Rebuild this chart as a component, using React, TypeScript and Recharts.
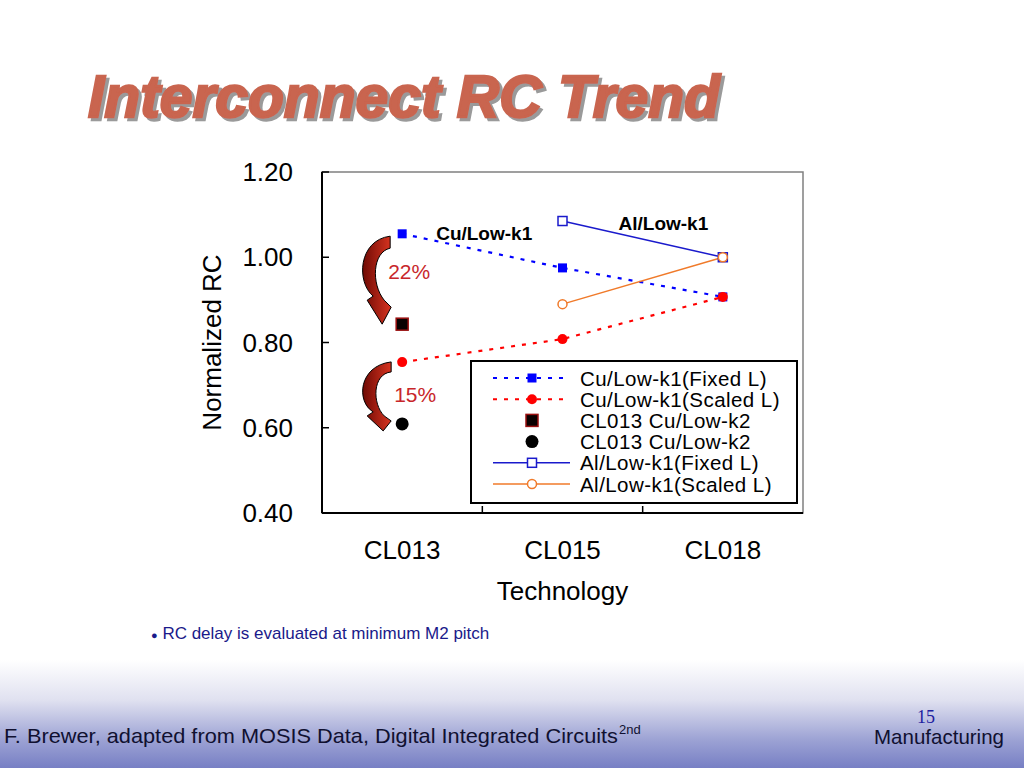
import React from 'react';
import {
  ComposedChart,
  Line,
  XAxis,
  YAxis,
  ReferenceArea,
  ReferenceDot,
  Label,
} from 'recharts';

// values
const technologies = ['CL013', 'CL015', 'CL018'];
const cuFixed = [1.055, 0.975, 0.907];
const cuScaled = [0.754, 0.808, 0.907];
const k2Square = [0.843, null, null];
const k2Circle = [0.609, null, null];
const alFixed = [null, 1.085, 1.0];
const alScaled = [null, 0.89, 1.0];
const yTicks = [0.4, 0.6, 0.8, 1.0, 1.2];

const legendNames = [
  'Cu/Low-k1(Fixed L)',
  'Cu/Low-k1(Scaled L)',
  'CL013 Cu/Low-k2',
  'CL013 Cu/Low-k2',
  'Al/Low-k1(Fixed L)',
  'Al/Low-k1(Scaled L)',
];

const chartData = technologies.map((tech, i) => ({
  tech,
  cuFixed: cuFixed[i],
  cuScaled: cuScaled[i],
  k2Square: k2Square[i],
  k2Circle: k2Circle[i],
  alFixed: alFixed[i],
  alScaled: alScaled[i],
}));

const FONT = '"Liberation Sans", Arial, Helvetica, sans-serif';
const BLUE = '#0000ff';
const RED = '#ff0000';
const AL_BLUE = '#1a1acc';
const ORANGE = '#f07a2a';
const DOT_DASH = '4 7';

type Mark = (cx: number, cy: number, key?: number | string) => React.ReactElement;

const blueSquare: Mark = (cx, cy, key) => (
  <rect key={key} x={cx - 4.5} y={cy - 4.5} width={9} height={9} fill={BLUE} />
);
const redCircle: Mark = (cx, cy, key) => <circle key={key} cx={cx} cy={cy} r={5} fill={RED} />;
const k2SquareMark: Mark = (cx, cy, key) => (
  <rect key={key} x={cx - 6} y={cy - 6} width={12} height={12} fill="#0a0000" stroke="#9a1010" strokeWidth={1.5} />
);
const k2CircleMark: Mark = (cx, cy, key) => <circle key={key} cx={cx} cy={cy} r={6.5} fill="#000" />;
const openSquare: Mark = (cx, cy, key) => (
  <rect key={key} x={cx - 4.5} y={cy - 4.5} width={9} height={9} fill="#fff" stroke={AL_BLUE} strokeWidth={1.5} />
);
const openCircle: Mark = (cx, cy, key) => (
  <circle key={key} cx={cx} cy={cy} r={4.5} fill="#fff" stroke={ORANGE} strokeWidth={1.5} />
);

const dotOf = (mark: Mark) => (props: any) => {
  const { cx, cy, index } = props;
  if (cx == null || cy == null || Number.isNaN(cy)) return <g key={index} />;
  return mark(cx, cy, index);
};

const legendRows: { mark: Mark; stroke?: string; dash?: string }[] = [
  { mark: blueSquare, stroke: BLUE, dash: DOT_DASH },
  { mark: redCircle, stroke: RED, dash: DOT_DASH },
  { mark: k2SquareMark },
  { mark: k2CircleMark },
  { mark: openSquare, stroke: AL_BLUE },
  { mark: openCircle, stroke: ORANGE },
];

function TechTick(props: any) {
  const { x, y, payload, index, visibleTicksCount } = props;
  const half = payload?.offset ?? 0;
  return (
    <g>
      <text x={x} y={y + 46} textAnchor="middle" fontSize={26} fill="#000" fontFamily={FONT}>
        {payload.value}
      </text>
      {index < visibleTicksCount - 1 && (
        <line x1={x + half} x2={x + half} y1={y} y2={y - 7} stroke="#000" strokeWidth={1.5} />
      )}
    </g>
  );
}

// curved "drop" arrows, drawn relative to the point they point at
const ARROW_TOP =
  'M -12 -88 C -44 -84 -46 -42 -29 -28 L -35 -24 L -20 0 L -11 -17 L -18 -24 C -31 -40 -30 -72 -12 -76 Z';
const ARROW_BOTTOM =
  'M -11 -62 C -44 -58 -46 -22 -29 -12 L -35 -8 L -19 7 L -11 -3 L -18 -8 C -30 -20 -30 -50 -11 -52 Z';

const arrowShape = (d: string, pct: string, dx: number, dy: number) => (props: any) => {
  const { cx, cy } = props;
  return (
    <g>
      <path d={d} transform={`translate(${cx},${cy})`} fill="url(#arrowFill)" stroke="#000" strokeWidth={1} />
      <text x={cx + dx} y={cy + dy} fontSize={21} fill="#c8262a" fontFamily={FONT}>
        {pct}
      </text>
    </g>
  );
};

const boldNote = (text: string, dx: number, dy: number) => (props: any) => {
  const { cx, cy } = props;
  return (
    <text x={cx + dx} y={cy + dy} fontSize={19} fontWeight="bold" fill="#000" fontFamily={FONT} dominantBaseline="central">
      {text}
    </text>
  );
};

function Legend() {
  return (
    <svg
      width={328}
      height={144}
      style={{ position: 'absolute', left: 470, top: 360 }}
      fontFamily={FONT}
    >
      <rect x={1} y={1} width={326} height={142} fill="#fff" stroke="#000" strokeWidth={2} />
      {legendNames.map((name, i) => {
        const row = legendRows[i];
        const cy = 18 + i * 21.2;
        return (
          <g key={name + i}>
            {row.stroke && (
              <line
                x1={23}
                x2={100}
                y1={cy}
                y2={cy}
                stroke={row.stroke}
                strokeWidth={row.dash ? 2 : 1.5}
                strokeDasharray={row.dash}
              />
            )}
            {row.mark(62, cy)}
            <text x={110} y={cy} fontSize={20.5} letterSpacing={0.45} dominantBaseline="central" fill="#000">
              {name}
            </text>
          </g>
        );
      })}
    </svg>
  );
}

export default function App() {
  return (
    <div
      style={{
        position: 'absolute',
        left: 0,
        top: 0,
        width: 1024,
        height: 768,
        overflow: 'hidden',
        fontFamily: FONT,
        background:
          'linear-gradient(to bottom, #ffffff 0px, #ffffff 660px, #e0e1f0 700px, #9ca2d4 740px, #777fc4 768px)',
      }}
    >
      <svg width={760} height={140} style={{ position: 'absolute', left: 0, top: 0 }}>
        <defs>
          <filter id="titleShadow" x="-5%" y="-20%" width="110%" height="150%">
            <feDropShadow dx={3} dy={3} stdDeviation={0.6} floodColor="#9a9a9a" floodOpacity={1} />
          </filter>
        </defs>
        <text
          x={88}
          y={117}
          fontSize={59}
          fontWeight="bold"
          fontStyle="italic"
          fill="#c9654f"
          stroke="#c9654f"
          strokeWidth={2.4}
          textLength={632}
          lengthAdjust="spacingAndGlyphs"
          fontFamily={FONT}
          filter="url(#titleShadow)"
        >
          Interconnect RC Trend
        </text>
      </svg>

      <div style={{ position: 'absolute', left: 0, top: 0 }}>
        <ComposedChart
          width={1024}
          height={768}
          data={chartData}
          margin={{ top: 172, right: 221, bottom: 215, left: 242 }}
          style={{ fontFamily: FONT }}
        >
          <defs>
            <linearGradient id="arrowFill" x1="0" y1="0" x2="1" y2="0">
              <stop offset="0%" stopColor="#6e0a04" />
              <stop offset="100%" stopColor="#d83420" />
            </linearGradient>
          </defs>
          <ReferenceArea y1={0.4} y2={1.2} fill="none" stroke="#808080" strokeWidth={1.5} ifOverflow="visible" />
          <XAxis
            dataKey="tech"
            type="category"
            scale="band"
            height={40}
            axisLine={{ stroke: '#000', strokeWidth: 2 }}
            tickLine={false}
            tickSize={0}
            tickMargin={0}
            tick={(p: any) => <TechTick {...p} />}
            interval={0}
          >
            <Label
              content={(p: any) => {
                const vb = p.viewBox;
                return (
                  <text x={vb.x + vb.width / 2} y={vb.y + 87} textAnchor="middle" fontSize={26} fill="#000" fontFamily={FONT}>
                    Technology
                  </text>
                );
              }}
            />
          </XAxis>
          <YAxis
            type="number"
            domain={[0.4, 1.2]}
            ticks={yTicks}
            width={80}
            axisLine={{ stroke: '#000', strokeWidth: 2 }}
            tickLine={{ stroke: '#000', strokeWidth: 1.5 }}
            tickSize={-7}
            tickMargin={36}
            tick={{ fontSize: 26, fill: '#000' }}
            tickFormatter={(v: number) => v.toFixed(2)}
            interval={0}
          >
            <Label
              content={(p: any) => {
                const vb = p.viewBox;
                const cx = vb.x - 30;
                const cy = vb.y + vb.height / 2;
                return (
                  <text
                    x={cx}
                    y={cy}
                    transform={`rotate(-90, ${cx}, ${cy})`}
                    textAnchor="middle"
                    dominantBaseline="central"
                    fontSize={26}
                    fill="#000"
                    fontFamily={FONT}
                  >
                    Normalized RC
                  </text>
                );
              }}
            />
          </YAxis>

          <Line
            dataKey="cuFixed"
            stroke={BLUE}
            strokeWidth={2.2}
            strokeDasharray={DOT_DASH}
            dot={dotOf(blueSquare)}
            activeDot={false}
            isAnimationActive={false}
          />
          <Line
            dataKey="cuScaled"
            stroke={RED}
            strokeWidth={2.2}
            strokeDasharray={DOT_DASH}
            dot={dotOf(redCircle)}
            activeDot={false}
            isAnimationActive={false}
          />
          <Line
            dataKey="k2Square"
            stroke="none"
            dot={dotOf(k2SquareMark)}
            activeDot={false}
            isAnimationActive={false}
          />
          <Line
            dataKey="k2Circle"
            stroke="none"
            dot={dotOf(k2CircleMark)}
            activeDot={false}
            isAnimationActive={false}
          />
          <Line
            dataKey="alFixed"
            stroke={AL_BLUE}
            strokeWidth={1.5}
            dot={dotOf(openSquare)}
            activeDot={false}
            isAnimationActive={false}
          />
          <Line
            dataKey="alScaled"
            stroke={ORANGE}
            strokeWidth={1.5}
            dot={dotOf(openCircle)}
            activeDot={false}
            isAnimationActive={false}
          />

          <ReferenceDot
            x={technologies[0]}
            y={k2Square[0] as number}
            r={0}
            shape={arrowShape(ARROW_TOP, '22%', -14, -45)}
          />
          <ReferenceDot
            x={technologies[0]}
            y={k2Circle[0] as number}
            r={0}
            shape={arrowShape(ARROW_BOTTOM, '15%', -8, -22)}
          />
          <ReferenceDot x={technologies[0]} y={cuFixed[0]} r={0} shape={boldNote('Cu/Low-k1', 34, 0)} />
          <ReferenceDot x={technologies[1]} y={alFixed[1] as number} r={0} shape={boldNote('Al/Low-k1', 56, 2)} />
        </ComposedChart>
      </div>

      <Legend />

      <div
        style={{
          position: 'absolute',
          left: 151,
          top: 624,
          fontSize: 17,
          color: '#1a1a8a',
          whiteSpace: 'nowrap',
        }}
      >
        <span style={{ fontSize: 11, verticalAlign: 'middle' }}>●</span> RC delay is evaluated at minimum M2 pitch
      </div>

      <svg width={1024} height={90} style={{ position: 'absolute', left: 0, top: 678 }}>
        <text x={4} y={65} fontSize={21} fill="#101030" textLength={614} lengthAdjust="spacingAndGlyphs" fontFamily={FONT}>
          F. Brewer, adapted from MOSIS Data, Digital Integrated Circuits
        </text>
        <text x={619} y={56} fontSize={13} fill="#101030" fontFamily={FONT}>
          2nd
        </text>
        <text x={917} y={45} fontSize={18} fill="#2020a0" fontFamily='"Liberation Serif", "DejaVu Serif", serif'>
          15
        </text>
        <text x={874} y={66} fontSize={21} fill="#101030" textLength={130} lengthAdjust="spacingAndGlyphs" fontFamily={FONT}>
          Manufacturing
        </text>
      </svg>
    </div>
  );
}
